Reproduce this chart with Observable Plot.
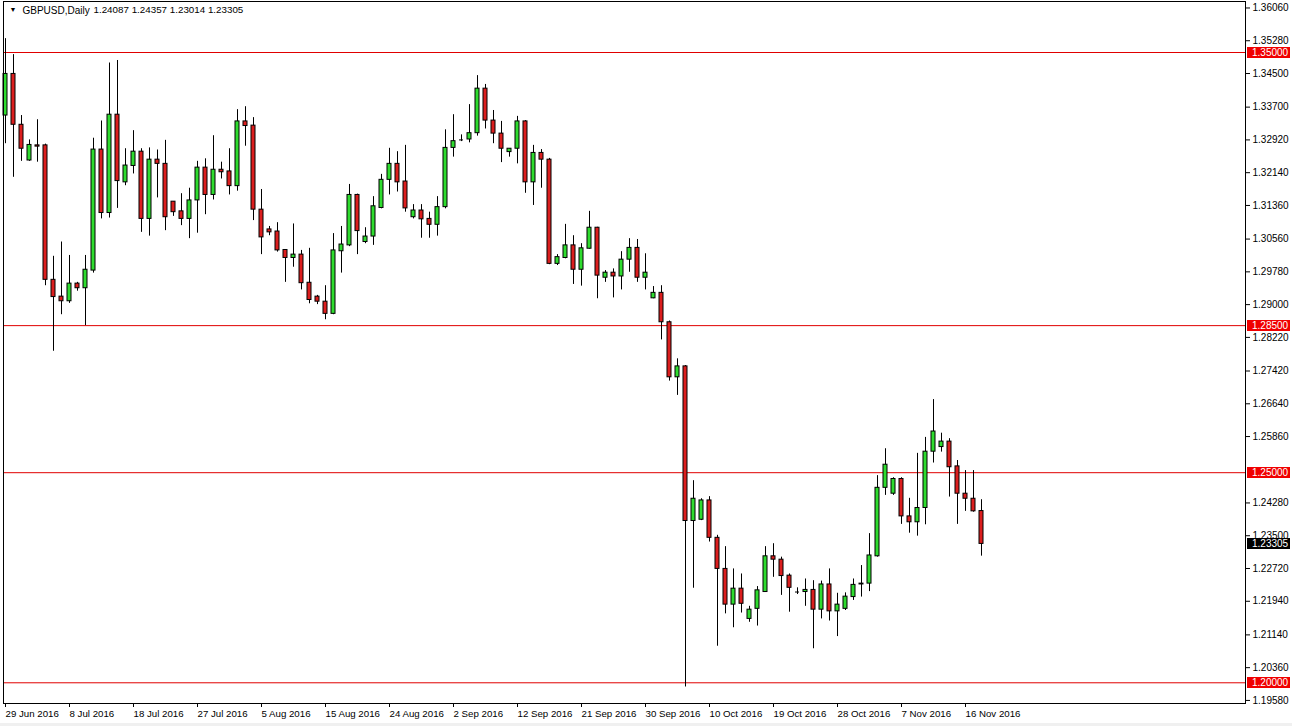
<!DOCTYPE html>
<html><head><meta charset="utf-8">
<script src="https://cdn.jsdelivr.net/npm/d3@7"></script>
<script src="https://cdn.jsdelivr.net/npm/@observablehq/plot@0.6"></script>
<style>
html,body{margin:0;padding:0;background:#f0f0f0;}
#chart svg{display:block;background:#fff;}
</style></head><body><div id="chart"></div>
<script>
const symbol = "GBPUSD";
const timeframe = "Daily";
const opens = [1.3350,1.3449,1.3328,1.3243,1.3279,1.3279,1.2959,1.2919,1.2908,1.2950,
1.2939,1.2981,1.3269,1.3118,1.3352,1.3191,1.3230,1.3264,1.3104,1.3245,
1.3235,1.3145,1.3122,1.3104,1.3148,1.3226,1.3161,1.3221,1.3217,1.3182,
1.3336,1.3326,1.3126,1.3079,1.3074,1.3030,1.3011,1.3019,1.2952,1.2919,
1.2907,1.2878,1.3027,1.3041,1.3161,1.3049,1.3062,1.3130,1.3197,1.3235,
1.3193,1.3108,1.3124,1.3104,1.3090,1.3132,1.3273,1.3292,1.3293,1.3308,
1.3414,1.3338,1.3307,1.3263,1.3271,1.3336,1.3191,1.3261,1.3245,1.2997,
1.3011,1.3041,1.2983,1.3033,1.3083,1.2964,1.2976,1.2967,1.3007,1.3035,
1.2964,1.2915,1.2928,1.2858,1.2727,1.2753,1.2385,1.2388,1.2434,1.2345,
1.2271,1.2186,1.2224,1.2152,1.2176,1.2216,1.2301,1.2293,1.2255,1.2216,
1.2216,1.2221,1.2174,1.2234,1.2170,1.2176,1.2204,1.2236,1.2236,1.2301,
1.2464,1.2450,1.2485,1.2396,1.2382,1.2416,1.2550,1.2561,1.2574,1.2515,
1.2450,1.2438,1.24087];
const highs = [1.3533,1.3495,1.3350,1.3292,1.3340,1.3282,1.3015,1.3049,1.3017,1.2953,
1.3017,1.3296,1.3337,1.3475,1.3481,1.3271,1.3314,1.3271,1.3273,1.3268,
1.3291,1.3145,1.3164,1.3177,1.3241,1.3247,1.3302,1.3239,1.3271,1.3364,
1.3371,1.3345,1.3174,1.3086,1.3095,1.3030,1.3092,1.3029,1.3034,1.2922,
1.2945,1.3069,1.3086,1.3186,1.3163,1.3083,1.3157,1.3210,1.3272,1.3264,
1.3279,1.3138,1.3138,1.3120,1.3157,1.3316,1.3352,1.3304,1.3376,1.3445,
1.3424,1.3362,1.3336,1.3271,1.3348,1.3338,1.3279,1.3269,1.3248,1.3019,
1.3091,1.3064,1.3045,1.3122,1.3084,1.2981,1.2985,1.3026,1.3057,1.3055,
1.3021,1.2943,1.2945,1.2861,1.2771,1.2755,1.2481,1.2438,1.2443,1.2351,
1.2324,1.2271,1.2259,1.2182,1.2229,1.2324,1.2331,1.2299,1.2259,1.2226,
1.2247,1.2243,1.2242,1.2271,1.2213,1.2214,1.2247,1.2279,1.2355,1.2493,
1.2557,1.2488,1.2488,1.2439,1.2546,1.2584,1.2674,1.2594,1.2581,1.2529,
1.2505,1.2505,1.24357];
const lows = [1.3283,1.3203,1.3241,1.3241,1.3239,1.2945,1.2789,1.2876,1.2903,1.2932,
1.2850,1.2975,1.3104,1.3106,1.3129,1.3183,1.3211,1.3072,1.3063,1.3154,
1.3076,1.3110,1.3088,1.3057,1.3070,1.3114,1.3149,1.3199,1.3161,1.3170,
1.3277,1.3100,1.3019,1.3064,1.3025,1.2953,1.2989,1.2935,1.2902,1.2900,
1.2864,1.2876,1.2975,1.3038,1.3019,1.3045,1.3041,1.3128,1.3161,1.3168,
1.3120,1.3104,1.3058,1.3058,1.3063,1.3128,1.3251,1.3288,1.3285,1.3301,
1.3318,1.3283,1.3238,1.3251,1.3235,1.3165,1.3136,1.3177,1.2995,1.2993,
1.3009,1.2948,1.2944,1.3032,1.2914,1.2953,1.2916,1.2935,1.2977,1.2953,
1.2935,1.2914,1.2816,1.2718,1.2684,1.1990,1.2225,1.2386,1.2335,1.2087,
1.2164,1.2131,1.2166,1.2144,1.2135,1.2215,1.2251,1.2208,1.2168,1.2210,
1.2182,1.2081,1.2152,1.2147,1.2110,1.2172,1.2196,1.2204,1.2217,1.2299,
1.2446,1.2446,1.2377,1.2356,1.2349,1.2376,1.2523,1.2549,1.2442,1.2377,
1.2408,1.2406,1.23014];
const closes = [1.3449,1.3328,1.3271,1.3280,1.3276,1.2959,1.2918,1.2908,1.2950,1.2939,
1.2983,1.3269,1.3118,1.3352,1.3194,1.3231,1.3264,1.3104,1.3245,1.3235,
1.3108,1.3120,1.3104,1.3148,1.3226,1.3161,1.3221,1.3215,1.3182,1.3336,
1.3325,1.3126,1.3060,1.3072,1.3029,1.3011,1.3019,1.2951,1.2911,1.2907,
1.2878,1.3029,1.3043,1.3161,1.3075,1.3062,1.3134,1.3197,1.3235,1.3191,
1.3129,1.3124,1.3103,1.3090,1.3132,1.3273,1.3289,1.3292,1.3308,1.3414,
1.3338,1.3307,1.3271,1.3271,1.3336,1.3191,1.3261,1.3245,1.2997,1.3013,
1.3041,1.2983,1.3034,1.3083,1.2969,1.2976,1.2967,1.3007,1.3035,1.2964,
1.2976,1.2928,1.2858,1.2727,1.2753,1.2385,1.2438,1.2434,1.2345,1.2271,
1.2186,1.2224,1.2188,1.2174,1.2220,1.2301,1.2293,1.2254,1.2226,1.2216,
1.2221,1.2174,1.2234,1.2170,1.2186,1.2205,1.2233,1.2234,1.2303,1.2464,
1.2519,1.2485,1.2396,1.2382,1.2416,1.2550,1.2598,1.2574,1.2513,1.2450,
1.2438,1.2408,1.23305];
const dateLabels = ["29 Jun 2016","8 Jul 2016","18 Jul 2016","27 Jul 2016","5 Aug 2016","15 Aug 2016","24 Aug 2016","2 Sep 2016",
"12 Sep 2016","21 Sep 2016","30 Sep 2016","10 Oct 2016","19 Oct 2016","28 Oct 2016","7 Nov 2016","16 Nov 2016"];
const dateLabelBars = [0,8,16,24,32,40,48,56,64,72,80,88,96,104,112,120];
const priceTicks = [1.36060,1.35280,1.34500,1.33700,1.32920,1.32140,1.31360,1.30560,1.29780,1.29000,
1.28220,1.27420,1.26640,1.25860,1.24280,1.23500,1.22720,1.21940,1.21140,1.20360,1.19580];
const levels = [1.35000,1.28500,1.25000,1.20000];

const candles = opens.map((o, i) => ({i, open: o, high: highs[i], low: lows[i], close: closes[i]}));
const last = candles[candles.length - 1];
const fmt = d3.format(".5f");
const titleName = `${symbol},${timeframe}`;
const titleValues = `${fmt(last.open)} ${fmt(last.high)} ${fmt(last.low)} ${fmt(last.close)}`;
const font = "'Liberation Sans', Arial, sans-serif";

const plot = Plot.plot({
  width: 1292, height: 723,
  marginLeft: 3, marginRight: 47, marginTop: 1, marginBottom: 20,
  style: {fontFamily: font, fontSize: "10px", background: "#fff", color: "#000"},
  x: {type: "linear", domain: [-0.25, 155]},
  y: {domain: [1.19507, 1.36214]},
  marks: [
    Plot.ruleY(levels, {stroke: "#e00000", strokeWidth: 1}),
    Plot.ruleX(candles, {x: "i", y1: "low", y2: "high", stroke: "#000"}),
    Plot.rect(candles.filter(d => d.close >= d.open), {x1: d => d.i - 0.25, x2: d => d.i + 0.25, y1: "open", y2: "close", fill: "#2fdc2f", stroke: "#000"}),
    Plot.rect(candles.filter(d => d.close < d.open), {x1: d => d.i - 0.25, x2: d => d.i + 0.25, y1: "open", y2: "close", fill: "#dc1e1e", stroke: "#000"}),
    Plot.ruleY(candles.filter(d => d.close === d.open), {y: "open", x1: d => d.i - 0.25, x2: d => d.i + 0.25, stroke: "#000"}),
    Plot.frame({stroke: "#000"}),
    Plot.axisY(priceTicks, {anchor: "right", tickSize: 4, tickPadding: 3, tickFormat: fmt, label: null, fontSize: 10}),
    Plot.axisX(dateLabelBars, {anchor: "bottom", tickSize: 4, tickPadding: 3, tickFormat: d => dateLabels[dateLabelBars.indexOf(d)], textAnchor: "start", dx: 0, label: null, fontSize: 9.7}),
    Plot.text(["▼"], {frameAnchor: "top-left", dx: 6, dy: 6, fontSize: 7, fill: "#000"}),
    Plot.text([titleName], {frameAnchor: "top-left", dx: 19, dy: 5, fontSize: 10, fill: "#000"}),
    Plot.text([titleValues], {frameAnchor: "top-left", dx: 90, dy: 5, fontSize: 9.8, fill: "#000"})
  ]
});

// price-level tags on the right axis, positioned through Plot's own y scale
const ys = plot.scale("y");
const svg = d3.select(plot);
const g = svg.append("g").attr("font-family", font).attr("font-size", 10).attr("text-anchor", "start");
const tagX = 1292 - 47 + 2;
function tag(v, color) {
  const y = Math.round(ys.apply(v));
  g.append("rect").attr("x", tagX).attr("y", y - 5).attr("width", 43).attr("height", 11).attr("fill", color);
  g.append("text").attr("x", tagX + 5).attr("y", y).attr("dy", "0.35em").attr("fill", "#fff").attr("text-anchor", "start").text(fmt(v));
}
levels.forEach(v => tag(v, "#f00000"));
tag(last.close, "#000");

document.getElementById("chart").appendChild(plot);
</script></body></html>
